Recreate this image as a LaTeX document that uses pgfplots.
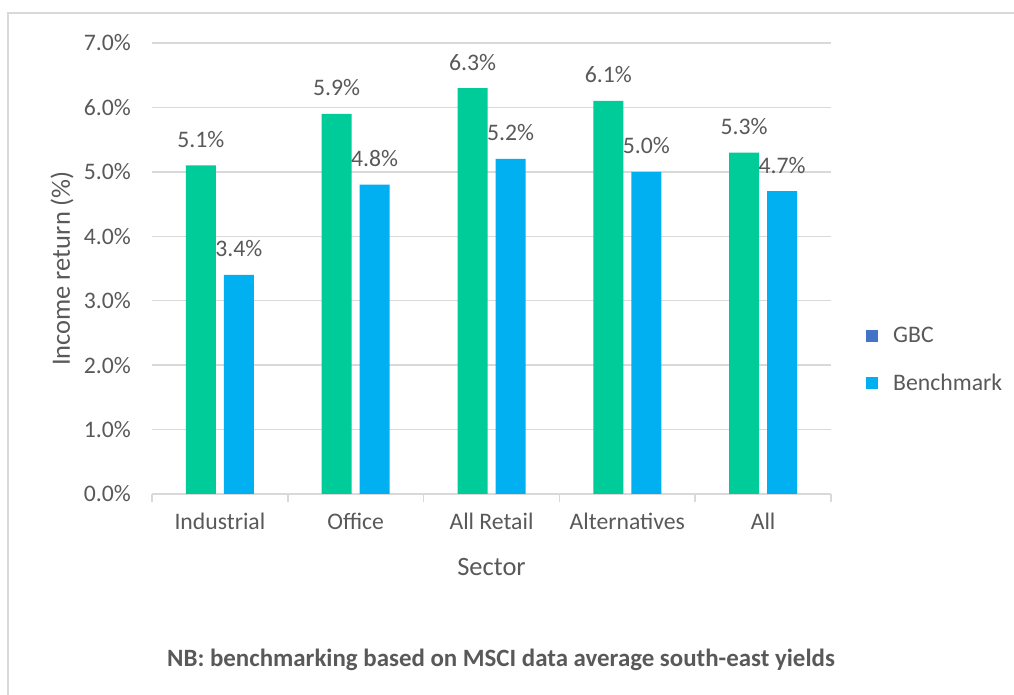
\documentclass[border=0pt]{standalone}
\usepackage{fontspec}
\setmainfont{Carlito}
\usepackage{pgfplots}
\pgfplotsset{compat=1.18}
\definecolor{txt}{HTML}{595959}
\definecolor{gridgray}{HTML}{D9D9D9}
\definecolor{gbcgreen}{HTML}{00CC99}
\definecolor{bench}{HTML}{00B0F0}
\definecolor{gbcleg}{HTML}{4472C4}
\newcommand{\tickfont}{\fontsize{23.7pt}{28pt}\selectfont}
\begin{document}
\begin{tikzpicture}
\path[use as bounding box] (0,0) rectangle (1014pt,695pt);
\draw[gridgray, line width=2pt] (8pt,0) -- (8pt,682pt) -- (1014pt,682pt);
\begin{axis}[
  at={(152pt,201pt)}, anchor=south west,
  scale only axis, width=679pt, height=451pt,
  xmin=-0.5, xmax=4.5, ymin=0, ymax=7,
  axis x line*=bottom, axis y line*=left,
  y axis line style={draw=none},
  x axis line style={draw=gridgray, line width=1.5pt},
  xtick={0,1,2,3,4},
  xticklabels={Industrial,Office,All Retail,Alternatives,All},
  major x tick style={draw=none},
  extra x ticks={-0.5,0.5,1.5,2.5,3.5,4.5},
  extra x tick labels={},
  extra x tick style={major tick length=8pt, tick align=outside, major x tick style={draw=gridgray, line width=1.5pt}},
  ytick={0,1,2,3,4,5,6,7},
  yticklabels={0.0\%,1.0\%,2.0\%,3.0\%,4.0\%,5.0\%,6.0\%,7.0\%},
  major y tick style={draw=none},
  ymajorgrids, major grid style={draw=gridgray, line width=1.5pt},
  tick label style={font=\tickfont, text=txt},
  xticklabel style={anchor=base, inner sep=0pt, yshift=-36pt},
  yticklabel style={anchor=east, inner sep=0pt, xshift=-21pt},
  ylabel={Income return (\%)},
  xlabel={Sector},
  label style={font=\fontsize{26.5pt}{30pt}\selectfont, text=txt},
  ylabel style={at={(axis description cs:-0.1325,0.5)}, anchor=center},
  xlabel style={at={(axis description cs:0.5,0)}, anchor=center, yshift=-73pt},
  /pgf/number format/assume math mode=true,
  legend style={draw=none, fill=none, at={(axis description cs:1.0516,0.2982)}, anchor=west,
    font=\tickfont, text=txt, inner sep=0pt, row sep=26pt,
    /tikz/every odd column/.append style={column sep=13pt}},
  legend cell align=left,
]
\addplot[ybar, bar width=30pt, bar shift=-19pt, fill=gbcgreen, draw=none,
  nodes near coords={\pgfmathprintnumber[fixed,fixed zerofill,precision=1]{\pgfplotspointmeta}\%},
  every node near coord/.append style={font=\tickfont, text=txt, anchor=base, inner sep=0pt, xshift=-19pt, yshift=18pt},
  legend image code/.code={\fill[gbcleg] (0pt,-6pt) rectangle (12pt,6pt);}]
  coordinates {(0,5.1) (1,5.9) (2,6.3) (3,6.1) (4,5.3)};
\addlegendentry{GBC}
\addplot[ybar, bar width=30pt, bar shift=19pt, fill=bench, draw=none,
  nodes near coords={\pgfmathprintnumber[fixed,fixed zerofill,precision=1]{\pgfplotspointmeta}\%},
  every node near coord/.append style={font=\tickfont, text=txt, anchor=base, inner sep=0pt, xshift=19pt, yshift=18pt},
  legend image code/.code={\fill[bench] (0pt,-6pt) rectangle (12pt,6pt);}]
  coordinates {(0,3.4) (1,4.8) (2,5.2) (3,5.0) (4,4.7)};
\addlegendentry{Benchmark}
\end{axis}
\node[font=\bfseries\fontsize{24.9pt}{28pt}\selectfont, text=txt] at (501pt,35pt) {NB: benchmarking based on MSCI data average south-east yields};
\end{tikzpicture}
\end{document}
